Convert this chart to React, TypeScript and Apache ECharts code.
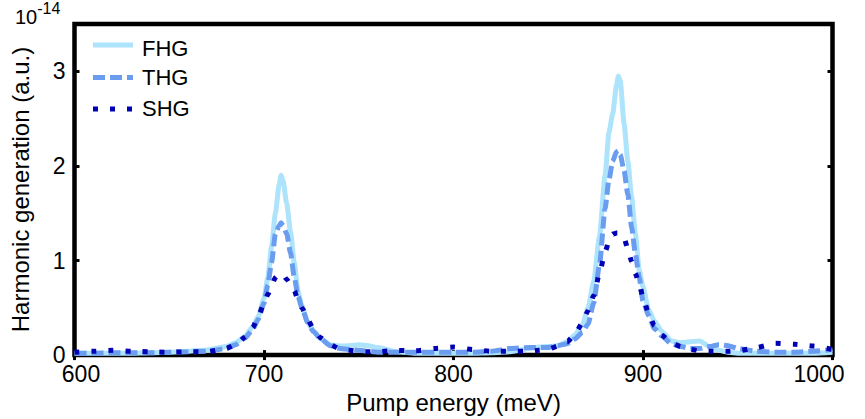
import React, { useEffect, useRef } from "react";
import * as echarts from "echarts";

// Pump energy (meV)
const energies = [
  600, 610, 620, 630, 640, 650, 660, 670, 680, 685,
  690, 694, 697, 700, 702, 704, 706, 708, 709, 710,
  712, 714, 716, 718, 720, 723, 726, 730, 735, 740,
  745, 750, 755, 760, 770, 780, 790, 800, 810, 820,
  830, 840, 845, 850, 855, 860, 864, 868, 871, 874,
  877, 880, 882, 884, 886, 887, 888, 890, 892, 894,
  896, 898, 900, 903, 906, 910, 915, 920, 925, 930,
  935, 940, 945, 950, 960, 970, 980, 990, 1000,
];

// Harmonic generation (units of 1e-14, a.u.)
const fhg = [
  0.02, 0.02, 0.02, 0.02, 0.025, 0.03, 0.04, 0.055, 0.09, 0.13,
  0.2, 0.3, 0.41, 0.6, 0.82, 1.15, 1.5, 1.8, 1.9, 1.85,
  1.6, 1.3, 0.97, 0.67, 0.52, 0.35, 0.26, 0.17, 0.11, 0.095,
  0.1, 0.11, 0.1, 0.08, 0.035, 0.02, 0.02, 0.02, 0.02, 0.025,
  0.035, 0.07, 0.085, 0.09, 0.1, 0.14, 0.21, 0.32, 0.5, 0.78,
  1.25, 1.9, 2.35, 2.55, 2.85, 2.95, 2.9, 2.45, 2.05, 1.67,
  1.28, 0.9, 0.72, 0.48, 0.36, 0.25, 0.15, 0.13, 0.14, 0.15,
  0.09, 0.05, 0.03, 0.02, 0.02, 0.02, 0.02, 0.02, 0.03,
];

const thg = [
  0.02, 0.02, 0.025, 0.025, 0.025, 0.03, 0.035, 0.04, 0.07, 0.11,
  0.18, 0.27, 0.38, 0.55, 0.74, 0.98, 1.28, 1.37, 1.4, 1.37,
  1.28, 1.08, 0.82, 0.62, 0.5, 0.35, 0.25, 0.17, 0.1, 0.07,
  0.06, 0.05, 0.04, 0.03, 0.03, 0.03, 0.03, 0.03, 0.03, 0.04,
  0.07, 0.08, 0.08, 0.08, 0.1, 0.12, 0.17, 0.24, 0.33, 0.55,
  0.95, 1.55, 1.85, 2.05, 2.15, 2.16, 2.12, 1.95, 1.7, 1.35,
  1.07, 0.82, 0.57, 0.42, 0.28, 0.2, 0.12, 0.09, 0.07, 0.07,
  0.09, 0.11, 0.1, 0.07, 0.04, 0.03, 0.03, 0.04, 0.06,
];

const shg = [
  0.03, 0.04, 0.05, 0.04, 0.035, 0.03, 0.035, 0.035, 0.07, 0.11,
  0.19, 0.29, 0.41, 0.55, 0.64, 0.74, 0.82, 0.86, 0.86, 0.85,
  0.8, 0.75, 0.68, 0.58, 0.5, 0.38, 0.28, 0.18, 0.11, 0.065,
  0.05, 0.04, 0.035, 0.035, 0.05, 0.045, 0.07, 0.085, 0.06, 0.04,
  0.04, 0.04, 0.05, 0.06, 0.095, 0.14, 0.22, 0.34, 0.47, 0.63,
  0.86, 1.09, 1.2, 1.28, 1.29, 1.29, 1.28, 1.24, 1.12, 0.99,
  0.86, 0.75, 0.61, 0.44, 0.31, 0.21, 0.13, 0.09, 0.06, 0.045,
  0.04, 0.04, 0.04, 0.045, 0.08, 0.125, 0.115, 0.095, 0.06,
];

const seriesNames = ["FHG", "THG", "SHG"];
const xTitle = "Pump energy (meV)";
const yTitle = "Harmonic generation (a.u.)";
const scaleBase = "10";
const scaleExp = "-14";

const FONT = "'Liberation Sans', Arial, sans-serif";
const COLORS = ["#ade3fb", "#6a9cf0", "#0000b4"];
const DASHES: (number[] | null)[] = [null, [12, 5], [5, 12]];

export default function App() {
  const ref = useRef<HTMLDivElement>(null);

  useEffect(() => {
    if (!ref.current) return;
    const chart = echarts.init(ref.current, undefined, { renderer: "svg" });
    const toPairs = (vals: number[]) => energies.map((e, i) => [e, vals[i]]);

    const tickStyle = { show: true, inside: true, length: 5, lineStyle: { color: "#000", width: 3 } };
    const labelBase = { fontFamily: FONT, fontSize: 23, color: "#000" };

    // legend drawn as graphic: sample line + label per series
    const legendRowsLine = [45, 77.5, 109];
    const legendRowsText = [48, 77.5, 108.5];
    const legendGraphics: any[] = [];
    seriesNames.forEach((name, i) => {
      const style: any = { stroke: COLORS[i], lineWidth: 5, lineCap: "butt" };
      if (DASHES[i]) style.lineDash = DASHES[i];
      legendGraphics.push({
        type: "line",
        shape: { x1: 93, y1: legendRowsLine[i], x2: 133, y2: legendRowsLine[i] },
        style,
        z: 10,
      });
      legendGraphics.push({
        type: "text",
        x: 142,
        y: legendRowsText[i],
        style: {
          text: name,
          fontFamily: FONT,
          fontSize: 22,
          fill: "#000",
          textVerticalAlign: "middle",
          verticalAlign: "middle",
        },
        z: 10,
      });
    });

    const seriesList = [fhg, thg, shg].map((vals, i) => {
      const lineStyle: any = { color: COLORS[i], width: 5, cap: "butt" };
      if (DASHES[i]) lineStyle.type = DASHES[i];
      return {
        name: seriesNames[i],
        type: "line",
        data: toPairs(vals),
        showSymbol: false,
        symbol: "none",
        smooth: 0.2,
        smoothMonotone: "x",
        lineStyle,
        itemStyle: { color: COLORS[i] },
        z: 2 + i,
      };
    });

    chart.setOption({
      animation: false,
      backgroundColor: "#fff",
      textStyle: { fontFamily: FONT },
      grid: {
        left: 74.5,
        right: 32.5,
        top: 24,
        bottom: 53,
        show: true,
        borderColor: "#000",
        borderWidth: 4.5,
        backgroundColor: "transparent",
      },
      xAxis: [
        {
          type: "value",
          min: 600,
          max: 1000,
          interval: 100,
          position: "bottom",
          axisLine: { show: false },
          axisTick: tickStyle,
          splitLine: { show: false },
          axisLabel: {
            ...labelBase,
            margin: 7,
            formatter: (v: number) =>
              v === 600 ? `{l|${v}}` : v === 1000 ? `{r|${v}}` : String(v),
            rich: {
              l: { ...labelBase, padding: [0, 0, 0, 13] },
              r: { ...labelBase, padding: [0, 27, 0, 0] },
            },
          },
          name: xTitle,
          nameLocation: "middle",
          nameGap: 22,
          nameTextStyle: { fontFamily: FONT, fontSize: 24, color: "#000" },
        },
        {
          type: "value",
          min: 600,
          max: 1000,
          interval: 100,
          position: "top",
          axisLine: { show: false },
          axisTick: tickStyle,
          splitLine: { show: false },
          axisLabel: { show: false },
        },
      ],
      yAxis: [
        {
          type: "value",
          min: 0,
          max: 3.5,
          interval: 1,
          position: "left",
          axisLine: { show: false },
          axisTick: tickStyle,
          splitLine: { show: false },
          axisLabel: {
            ...labelBase,
            margin: 9,
            showMaxLabel: false,
            formatter: (v: number) => (Number.isInteger(v) ? String(v) : ""),
          },
          name: yTitle,
          nameLocation: "middle",
          nameGap: 42,
          nameTextStyle: { fontFamily: FONT, fontSize: 24, color: "#000" },
        },
        {
          type: "value",
          min: 0,
          max: 3.5,
          interval: 1,
          position: "right",
          axisLine: { show: false },
          axisTick: tickStyle,
          splitLine: { show: false },
          axisLabel: { show: false },
        },
      ],
      graphic: [
        {
          type: "text",
          x: 15,
          y: 0,
          style: {
            text: `{b|${scaleBase}}{s|${scaleExp}}`,
            rich: {
              b: { fontFamily: FONT, fontSize: 20, fill: "#000", padding: [7, 0, 0, 0], verticalAlign: "bottom" },
              s: { fontFamily: FONT, fontSize: 16, fill: "#000", verticalAlign: "top" },
            },
          },
        },
        ...legendGraphics,
      ],
      series: seriesList,
    });

    return () => chart.dispose();
  }, []);

  return (
    <div
      ref={ref}
      style={{ position: "fixed", left: 0, top: 0, width: 865, height: 419, background: "#fff" }}
    />
  );
}
